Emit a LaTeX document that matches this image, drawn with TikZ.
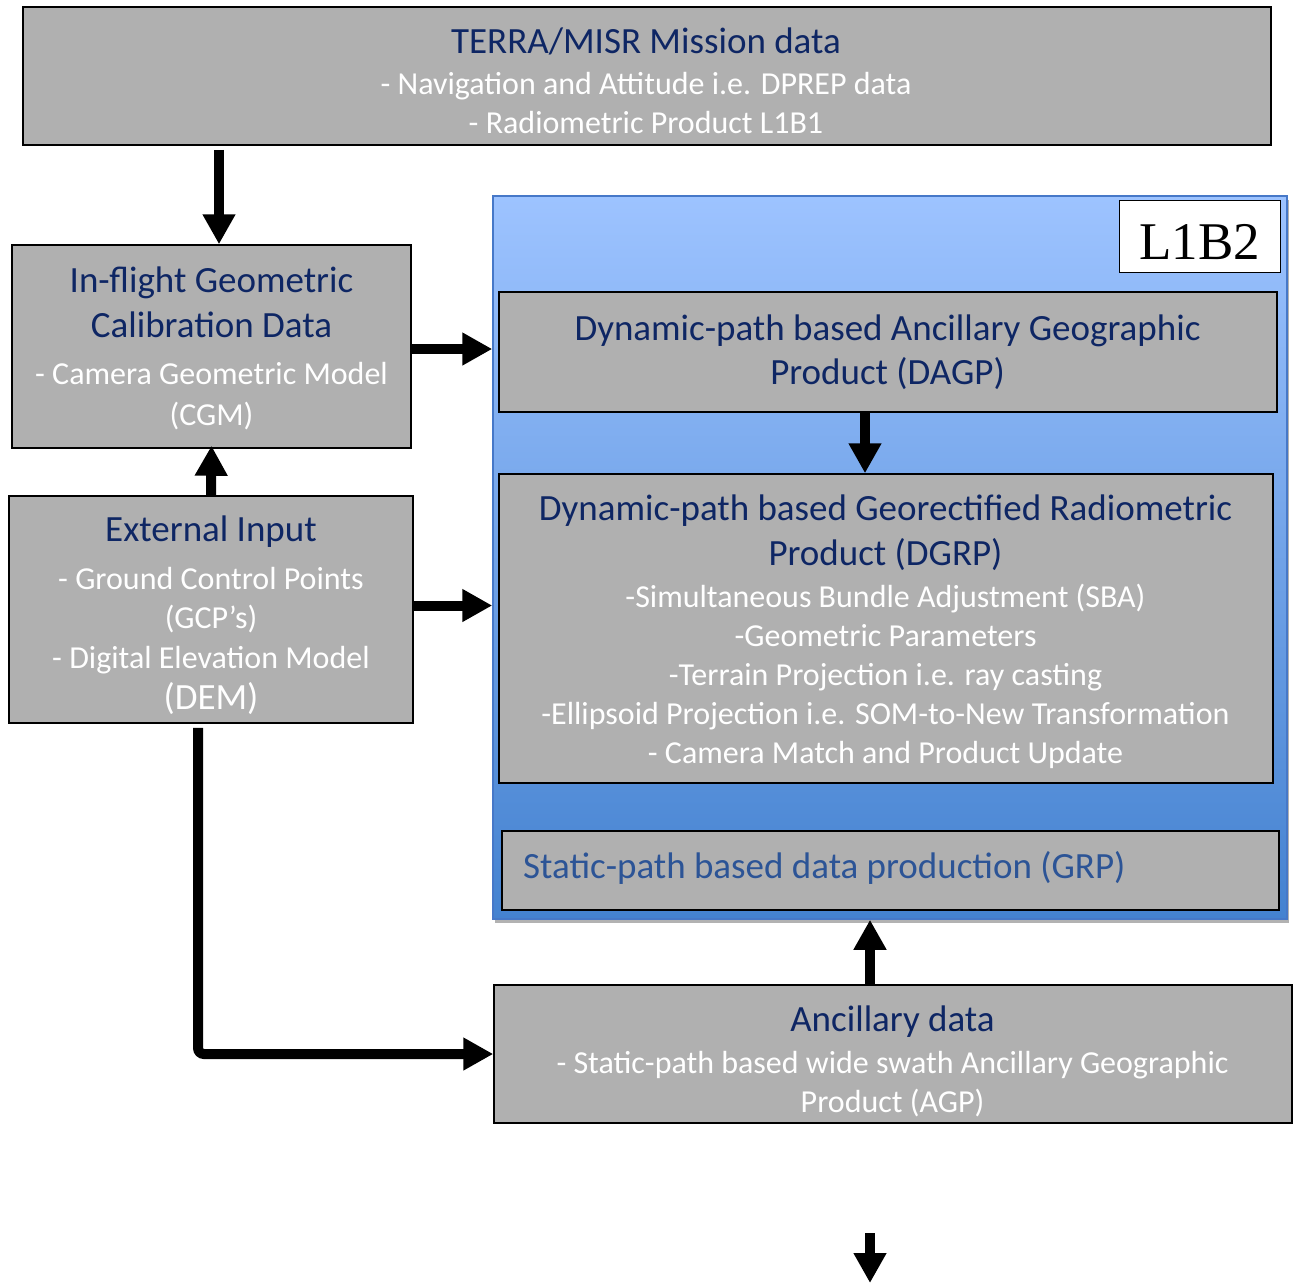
\documentclass[tikz,border=0pt]{standalone}
\usepackage{fontspec}
\setmainfont{Carlito}
\newfontfamily\timesf{Liberation Serif}
\usetikzlibrary{arrows.meta,shadows,calc}
\definecolor{boxgray}{RGB}{176,176,176}
\definecolor{navy}{RGB}{14,38,100}
\definecolor{grpblue}{RGB}{44,84,150}
\definecolor{bluetop}{RGB}{157,195,255}
\definecolor{bluebot}{RGB}{68,130,208}
\definecolor{blueedge}{RGB}{70,120,200}
\newcommand\ttlf{\color{navy}\fontsize{37}{45}\selectfont}
\begin{document}
\begin{tikzpicture}[x=1pt,y=-1pt,
  box/.style={draw=black, line width=1.5pt, fill=boxgray, inner sep=0pt, rectangle},
  txt/.style={inner sep=0pt, align=center, text=white, font=\fontsize{32}{40}\selectfont},
  arr/.style={line width=10pt, -{Triangle[length=30pt,width=31pt]}},
]
\fill[white] (0,0) rectangle (1294,1283);
\useasboundingbox (0,0) rectangle (1294,1283);

% boxes
\node[box, minimum width=1248pt, minimum height=138pt] (terra) at (647,76) {};
\node[box, minimum width=399pt, minimum height=203pt] (inflight) at (211.5,346.5) {};
\node[box, minimum width=404pt, minimum height=227pt] (extern) at (211,609.5) {};

\node[rectangle, inner sep=0pt, minimum width=794pt, minimum height=723pt,
      draw=blueedge, line width=1.5pt, top color=bluetop, bottom color=bluebot,
      drop shadow={shadow xshift=2pt, shadow yshift=-4pt, fill=black, opacity=0.3}]
      (l1b2) at (890,557.5) {};
\node[rectangle, draw=black, line width=1pt, fill=white, inner sep=0pt,
      minimum width=161pt, minimum height=72pt] (l1b2box) at (1199.5,236) {};
\node[inner sep=0pt, font=\timesf\fontsize{53}{60}\selectfont] (l1b2t) at (1199.5,242.5) {L1B2};

\node[box, minimum width=778pt, minimum height=120pt] (dagp) at (888,352) {};
\node[box, minimum width=774pt, minimum height=309pt] (dgrp) at (886,628.5) {};
\node[box, minimum width=777pt, minimum height=79pt] (grp) at (890.5,870.5) {};
\node[box, minimum width=798pt, minimum height=138pt] (anc) at (893,1054) {};

% texts
\node[txt] (terraT) at (646,81) {{\ttlf TERRA/MISR Mission data}\\[1pt]
  - Navigation and Attitude i.e. DPREP data\\[-1pt]
  - Radiometric Product L1B1};
\node[txt, font=\fontsize{32}{41}\selectfont] (inflightT) at (211.5,348) {{\ttlf In-flight Geometric}\\[4pt]
  {\ttlf Calibration Data}\\[6pt]
  - Camera Geometric Model\\
  (CGM)};
\node[txt] (externT) at (211,615) {{\ttlf External Input}\\[8pt]
  - Ground Control Points\\[-1pt]
  (GCP’s)\\
  - Digital Elevation Model\\[1pt]
  {\fontsize{37}{45}\selectfont (DEM)}};
\node[txt] (dagpT) at (887.5,352) {{\ttlf Dynamic-path based Ancillary Geographic}\\[4pt]
  {\ttlf Product (DAGP)}};
\node[txt, font=\fontsize{32}{39}\selectfont] (dgrpT) at (885.5,632) {{\ttlf Dynamic-path based Georectified Radiometric}\\[6pt]
  {\ttlf Product (DGRP)}\\[3pt]
  -Simultaneous Bundle Adjustment (SBA)\\
  -Geometric Parameters\\
  -Terrain Projection i.e. ray casting\\
  -Ellipsoid Projection i.e. SOM-to-New Transformation\\
  - Camera Match and Product Update};
\node[inner sep=0pt, anchor=west, text=grpblue, font=\fontsize{37}{45}\selectfont] (grpT) at (523,868) {Static-path based data production (GRP)};
\node[txt] (ancT) at (892.5,1061) {{\ttlf Ancillary data}\\[2pt]
  - Static-path based wide swath Ancillary Geographic\\[-1pt]
  Product (AGP)};

% connectors
\draw[arr, shorten <=4pt] ([xshift=7.5pt]terra.south -| inflight.north) -- ([xshift=7.5pt]inflight.north);
\draw[arr] (extern.north) -- ([yshift=3pt]inflight.south);
\draw[arr] ([yshift=-2.5pt]inflight.east) -- ([yshift=-2.5pt]inflight.east -| l1b2.west);
\draw[arr] ([yshift=4pt]extern.east) -- ([yshift=4pt]extern.east -| l1b2.west);
\draw[arr] ([xshift=-23pt]dagp.south) -- ([xshift=-23pt]dagp.south |- dgrp.north);
\draw[arr] ([xshift=-23pt]anc.north) -- ([xshift=-23pt]anc.north |- l1b2.south);
\draw[arr, rounded corners=6pt, shorten <=4pt] ([xshift=-13pt]extern.south) |- (anc.west);
\coordinate (outA) at (870,1233);
\coordinate (outB) at (870,1283);
\draw[arr] (outA) -- (outB);
\end{tikzpicture}
\end{document}
